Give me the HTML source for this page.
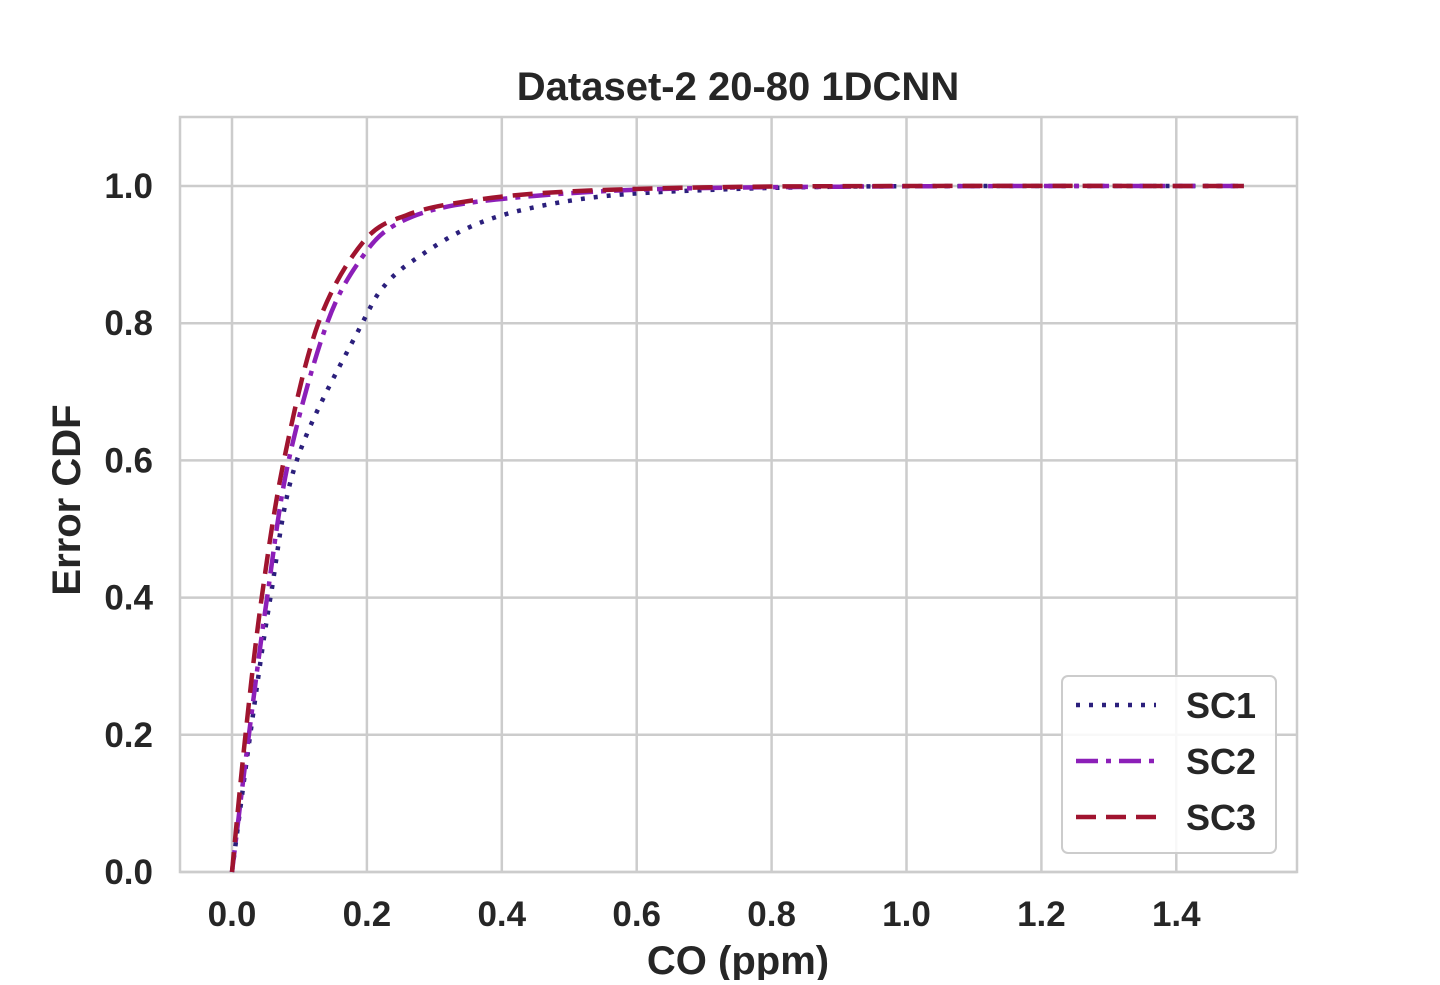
<!DOCTYPE html>
<html><head><meta charset="utf-8"><style>
body{margin:0;background:#fff;}
svg text{font-family:"Liberation Sans",Arial,sans-serif;font-weight:bold;fill:#262626;}
</style></head><body>
<svg id="chart" width="1440" height="980" xmlns="http://www.w3.org/2000/svg">
<rect x="180" y="117" width="1117" height="755" fill="#fff" stroke="#cccccc" stroke-width="2.5"/>
<g id="grid"></g>
<g id="series"></g>
<g id="ticks"></g>
<text x="738" y="100" font-size="40" text-anchor="middle">Dataset-2 20-80 1DCNN</text>
<text x="738" y="974" font-size="40" text-anchor="middle">CO (ppm)</text>
<text transform="translate(80,500) rotate(-90)" font-size="40" text-anchor="middle">Error CDF</text>
<g>
<rect x="1062" y="676" width="214" height="177" rx="6" fill="#fff" fill-opacity="0.85" stroke="#cccccc" stroke-width="2"/>
<g id="legend-entries"></g>
</g>
</svg>
<script>
const xTicks=[0,0.2,0.4,0.6,0.8,1.0,1.2,1.4];
const yTicks=[0,0.2,0.4,0.6,0.8,1.0];
const seriesNames=["SC1","SC2","SC3"];
const sc1X=[0,0.027,0.057,0.096,0.193,0.23,0.28,0.35,0.43,0.55,0.7,0.9,1.2,1.5];
const sc1Y=[0,0.2,0.4,0.6,0.8,0.859,0.899,0.939,0.965,0.985,0.994,0.999,1.0,1.0];
const sc2X=[0,0.025,0.052,0.084,0.141,0.195,0.245,0.33,0.48,0.65,0.9,1.2,1.5];
const sc2Y=[0,0.2,0.4,0.6,0.8,0.899,0.945,0.972,0.988,0.996,0.999,1.0,1.0];
const sc3X=[0,0.02,0.044,0.077,0.128,0.195,0.26,0.35,0.48,0.7,1.0,1.5];
const sc3Y=[0,0.2,0.4,0.6,0.8,0.919,0.958,0.978,0.991,0.998,1.0,1.0];
const colors=["#2b1f7c","#8c1fb8","#a0142f"];
const dashes=["4,9","22,8,5,8","20,10"];
const xs=v=>232+v*674.5, ys=v=>872-v*686;
const NS="http://www.w3.org/2000/svg";
const grid=document.getElementById('grid'),ticks=document.getElementById('ticks');
xTicks.forEach(t=>{
 const l=document.createElementNS(NS,'line');
 l.setAttribute('x1',xs(t));l.setAttribute('x2',xs(t));l.setAttribute('y1',117);l.setAttribute('y2',872);
 l.setAttribute('stroke','#cccccc');l.setAttribute('stroke-width','2.5');
 
 
 grid.appendChild(l);
 const tx=document.createElementNS(NS,'text');
 tx.setAttribute('x',xs(t));tx.setAttribute('y',926);tx.setAttribute('font-size','35');tx.setAttribute('text-anchor','middle');
 tx.textContent=t.toFixed(1);
 
 
 ticks.appendChild(tx);
});
yTicks.forEach(t=>{
 const l=document.createElementNS(NS,'line');
 l.setAttribute('x1',180);l.setAttribute('x2',1297);l.setAttribute('y1',ys(t));l.setAttribute('y2',ys(t));
 l.setAttribute('stroke','#cccccc');l.setAttribute('stroke-width','2.5');
 
 
 grid.appendChild(l);
 const tx=document.createElementNS(NS,'text');
 tx.setAttribute('x',153);tx.setAttribute('y',ys(t)+12);tx.setAttribute('font-size','35');tx.setAttribute('text-anchor','end');
 tx.textContent=t.toFixed(1);
 
 
 ticks.appendChild(tx);
});
function smoothPath(P){
 let d='M'+P[0][0].toFixed(1)+','+P[0][1].toFixed(1);
 for(let i=0;i<P.length-1;i++){
  const p0=P[Math.max(0,i-1)],p1=P[i],p2=P[i+1],p3=P[Math.min(P.length-1,i+2)];
  const c1=[p1[0]+(p2[0]-p0[0])/6,p1[1]+(p2[1]-p0[1])/6];
  const c2=[p2[0]-(p3[0]-p1[0])/6,p2[1]-(p3[1]-p1[1])/6];
  d+=' C'+c1[0].toFixed(1)+','+c1[1].toFixed(1)+' '+c2[0].toFixed(1)+','+c2[1].toFixed(1)+' '+p2[0].toFixed(1)+','+p2[1].toFixed(1);
 }
 return d;
}
const data=[[sc1X,sc1Y],[sc2X,sc2Y],[sc3X,sc3Y]];
const sg=document.getElementById('series'),lg=document.getElementById('legend-entries');
data.forEach((d,i)=>{
 const pts=d[0].map((x,k)=>[xs(x),ys(d[1][k])]);
 const p=document.createElementNS(NS,'path');
 p.setAttribute('d',smoothPath(pts));p.setAttribute('fill','none');
 p.setAttribute('stroke',colors[i]);p.setAttribute('stroke-width','4.5');p.setAttribute('stroke-dasharray',dashes[i]);
 
 
 sg.appendChild(p);
 const y=705+i*56;
 const ll=document.createElementNS(NS,'line');
 ll.setAttribute('x1',1076);ll.setAttribute('x2',1156);ll.setAttribute('y1',y);ll.setAttribute('y2',y);
 ll.setAttribute('stroke',colors[i]);ll.setAttribute('stroke-width','4.5');ll.setAttribute('stroke-dasharray',dashes[i]);
 
 
 lg.appendChild(ll);
 const tx=document.createElementNS(NS,'text');
 tx.setAttribute('x',1186);tx.setAttribute('y',y+13);tx.setAttribute('font-size','36');
 tx.textContent=seriesNames[i];
 
 
 lg.appendChild(tx);
});
</script>
</body></html>
